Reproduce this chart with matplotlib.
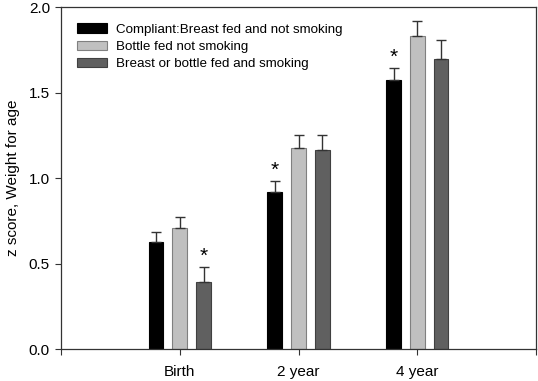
import matplotlib
matplotlib.use("Agg")
import matplotlib.pyplot as plt
import numpy as np

plt.rcParams['font.family'] = ['Liberation Sans', 'DejaVu Sans']

categories = ['Birth', '2 year', '4 year']
series_names = ['Compliant:Breast fed and not smoking',
                'Bottle fed not smoking',
                'Breast or bottle fed and smoking']
means = {
    'Compliant:Breast fed and not smoking': [0.628, 0.920, 1.571],
    'Bottle fed not smoking': [0.707, 1.177, 1.829],
    'Breast or bottle fed and smoking': [0.395, 1.162, 1.698],
}
errors = {
    'Compliant:Breast fed and not smoking': [0.057, 0.062, 0.070],
    'Bottle fed not smoking': [0.064, 0.073, 0.087],
    'Breast or bottle fed and smoking': [0.084, 0.091, 0.111],
}
# significance markers (series, category index)
significant = [('Breast or bottle fed and smoking', 0),
               ('Compliant:Breast fed and not smoking', 1),
               ('Compliant:Breast fed and not smoking', 2)]

face_colors = ['#000000', '#c0c0c0', '#606060']
edge_colors = ['#000000', '#808080', '#404040']

fig = plt.figure(figsize=(5.38, 3.81), dpi=100)
ax = fig.add_axes([0.1134, 0.0832, 0.8829, 0.8984])

x = np.arange(1, len(categories) + 1)
offsets = [-0.2, 0.0, 0.2]
width = 0.125

for i, name in enumerate(series_names):
    m = np.array(means[name])
    e = np.array(errors[name])
    ax.bar(x + offsets[i], m, width, color=face_colors[i], edgecolor=edge_colors[i],
           linewidth=0.8, label=name, zorder=2)
    ax.errorbar(x + offsets[i], m, yerr=[np.zeros_like(e), e], fmt='none',
                ecolor='#333333', elinewidth=1.0, capsize=3.6, capthick=1.0, zorder=3)

for name, ci in significant:
    i = series_names.index(name)
    top = means[name][ci] + errors[name][ci]
    ax.annotate('*', xy=(x[ci] + offsets[i], top), xytext=(0, 1),
                textcoords='offset points', ha='center', va='bottom', fontsize=15)

ax.set_xlim(0, 4)
ax.set_ylim(0, 2.0)
ax.set_xticks([0, 1, 2, 3, 4])
ax.set_xticklabels([''] + categories + [''])
ax.set_yticks([0.0, 0.5, 1.0, 1.5, 2.0])
ax.set_yticklabels(['0.0', '0.5', '1.0', '1.5', '2.0'])
ax.tick_params(axis='both', direction='out', length=4, width=0.8, labelsize=11,
               color='#333333')
ax.tick_params(axis='x', pad=7)
ax.tick_params(axis='y', pad=4)
for sp in ax.spines.values():
    sp.set_color('#333333')
    sp.set_linewidth(0.9)

ax.set_ylabel('z score, Weight for age', fontsize=11, labelpad=6)

ax.legend(loc='upper left', bbox_to_anchor=(0.034, 0.952), frameon=False,
          fontsize=9.6, handlelength=2.25, handleheight=0.7, handletextpad=0.65,
          labelspacing=0.36, borderpad=0, borderaxespad=0)

fig.savefig('out.png', dpi=100)
